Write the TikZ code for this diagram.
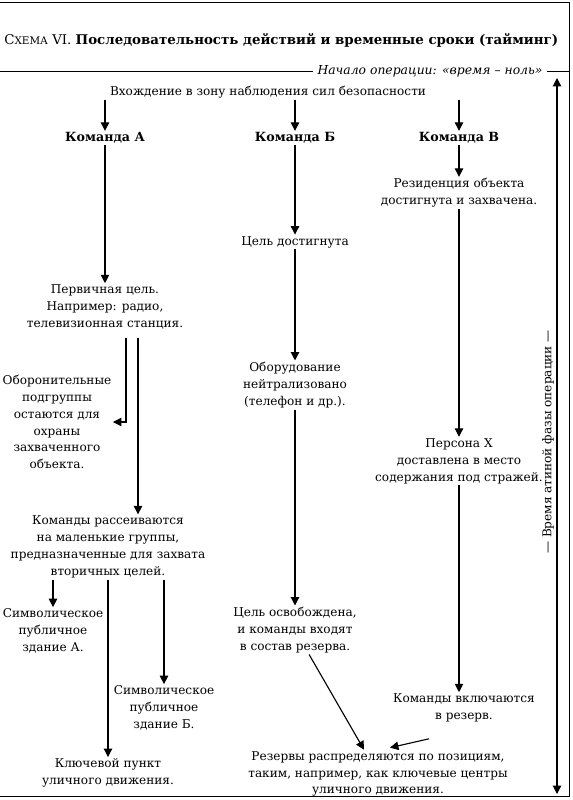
\documentclass[tikz,border=0pt]{standalone}
\usepackage{fontspec}
\setmainfont{DejaVu Serif}
\usetikzlibrary{arrows.meta, calc}

\begin{document}
\begin{tikzpicture}[x=0.025cm, y=-0.025cm,
    testo/.style={align=center, font=\fontsize{8.6}{12}\selectfont, inner sep=1pt},
    squadra/.style={font=\fontsize{9}{12}\selectfont\bfseries, inner sep=1pt},
    freccia/.style={-{Triangle[length=6pt, width=6pt]}, line width=0.8pt}]
    % Parametri
    \pgfmathsetmacro{\colA}{105}
    \pgfmathsetmacro{\colB}{295}
    \pgfmathsetmacro{\colC}{459}
    \pgfmathsetmacro{\tempo}{557}
    \useasboundingbox (0,0) rectangle (572,800);
    % Cornice e titolo
    \draw[line width=0.6pt] (0,2) -- (569,2) -- (569,796) -- (0,796);
    \node[anchor=west, inner sep=0pt, font=\fontsize{9.5}{12}\selectfont] (titolo) at (4,40)
        {С{\fontsize{7.4}{9}\selectfont ХЕМА} VI.\ \textbf{Последовательность действий и временные сроки (тайминг)}};
    \node[font=\fontsize{8.8}{12}\selectfont\itshape, inner sep=3pt] (inizio) at (430,71) {Начало операции: «время – ноль»};
    \draw[line width=0.6pt] (0,71) -- (inizio.west);
    \draw[line width=0.6pt] (inizio.east) -- (569,71);
    % Asse dei tempi
    \coordinate (t0) at (\tempo,78);
    \coordinate (t1) at (\tempo,794);
    \draw[{Triangle[length=6pt, width=6pt]}-{Triangle[length=6pt, width=6pt]}, line width=0.8pt] (t0) -- (t1);
    \node[testo, rotate=90] (fase) at (548,442) {— Время атиной фазы операции —};
    % Ingresso e squadre
    \node[testo] (ingresso) at (268,92) {Вхождение в зону наблюдения сил безопасности};
    \node[squadra] (sqA) at (\colA,138) {Команда А};
    \node[squadra] (sqB) at (\colB,138) {Команда Б};
    \node[squadra] (sqC) at (\colC,138) {Команда В};
    \draw[freccia] (ingresso.south -| sqA) -- (sqA);
    \draw[freccia] (ingresso.south -| sqB) -- (sqB);
    \draw[freccia] (ingresso.south -| sqC) -- (sqC);
    % Squadra A
    \node[testo] (primaria) at (\colA,307) {Первичная цель.\\Например: радио,\\телевизионная станция.};
    \node[testo] (difesa) at (57,422) {Оборонительные\\подгруппы\\остаются для\\охраны\\захваченного\\объекта.};
    \node[testo] (dispersione) at (108,547) {Команды рассеиваются\\на маленькие группы,\\предназначенные для захвата\\вторичных целей.};
    \node[testo] (simbA) at (53,631) {Символическое\\публичное\\здание А.};
    \node[testo] (simbB) at (164,708) {Символическое\\публичное\\здание Б.};
    \node[testo] (chiave) at (108,773) {Ключевой пункт\\уличного движения.};
    \coordinate (ramo1) at ($(primaria.south)+(21,7)$);
    \coordinate (ramo2) at ($(primaria.south)+(33,7)$);
    \draw[freccia] (sqA) -- (primaria);
    \draw[freccia] (ramo1) |- (difesa.east);
    \draw[freccia] (ramo2) -- (ramo2 |- dispersione.north);
    \draw[freccia] (dispersione.south -| simbA) -- (simbA);
    \draw[freccia] (dispersione) -- (chiave);
    \draw[freccia] (dispersione.south -| simbB) -- (simbB);
    % Squadra B
    \node[testo] (raggiunto) at (\colB,242) {Цель достигнута};
    \node[testo] (apparato) at (\colB,385) {Оборудование\\нейтрализовано\\(телефон и др.).};
    \node[testo] (liberata) at (\colB,630) {Цель освобождена,\\и команды входят\\в состав резерва.};
    \draw[freccia] (sqB) -- (raggiunto);
    \draw[freccia] (raggiunto) -- (apparato);
    \draw[freccia] (apparato) -- (liberata);
    % Squadra C
    \node[testo] (residenza) at (\colC,193) {Резиденция объекта\\достигнута и захвачена.};
    \node[testo] (persona) at (\colC,461) {Персона X\\доставлена в место\\содержания под стражей.};
    \node[testo] (riserva) at (464,708) {Команды включаются\\в резерв.};
    \draw[freccia] (sqC) -- (residenza);
    \draw[freccia] (residenza) -- (persona);
    \draw[freccia] (persona) -- (persona |- riserva.north);
    % Riserve
    \node[testo] (riserve) at (378,774) {Резервы распределяются по позициям,\\таким, например, как ключевые центры\\уличного движения.};
    \draw[freccia] (liberata) -- (riserve);
    \draw[freccia] ($(riserva.south)+(-35,15)$) -- ($(riserve.north)+(12,-2)$);
\end{tikzpicture}
\end{document}
